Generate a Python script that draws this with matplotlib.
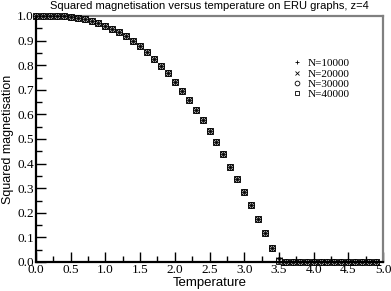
import matplotlib
matplotlib.use("Agg")
import matplotlib.pyplot as plt
from matplotlib.ticker import MultipleLocator, FormatStrFormatter

temperature = [round(0.1 * i, 1) for i in range(50)]

m2_n10000 = [1.000, 1.000, 1.000, 1.000, 0.999, 0.997, 0.993, 0.988, 0.980, 0.970,
             0.960, 0.948, 0.934, 0.918, 0.899, 0.878, 0.853, 0.826, 0.798, 0.767,
             0.733, 0.696, 0.659, 0.618, 0.576, 0.533, 0.487, 0.438, 0.387, 0.339,
             0.283, 0.230, 0.174, 0.117, 0.058, 0.018, 0.0, 0.0, 0.0, 0.0,
             0.0, 0.0, 0.0, 0.0, 0.0, 0.0, 0.0, 0.0, 0.0, 0.0]
m2_n20000 = [1.000, 1.000, 1.000, 1.000, 0.999, 0.997, 0.993, 0.988, 0.980, 0.970,
             0.960, 0.948, 0.934, 0.918, 0.899, 0.878, 0.853, 0.826, 0.798, 0.767,
             0.733, 0.696, 0.659, 0.618, 0.576, 0.533, 0.487, 0.438, 0.387, 0.339,
             0.283, 0.230, 0.174, 0.117, 0.058, 0.010, 0.0, 0.0, 0.0, 0.0,
             0.0, 0.0, 0.0, 0.0, 0.0, 0.0, 0.0, 0.0, 0.0, 0.0]
m2_n30000 = [1.000, 1.000, 1.000, 1.000, 0.999, 0.997, 0.993, 0.988, 0.980, 0.970,
             0.960, 0.948, 0.934, 0.918, 0.899, 0.878, 0.853, 0.826, 0.798, 0.767,
             0.733, 0.696, 0.659, 0.618, 0.576, 0.533, 0.487, 0.438, 0.387, 0.339,
             0.283, 0.230, 0.174, 0.117, 0.058, 0.007, 0.0, 0.0, 0.0, 0.0,
             0.0, 0.0, 0.0, 0.0, 0.0, 0.0, 0.0, 0.0, 0.0, 0.0]
m2_n40000 = [1.000, 1.000, 1.000, 1.000, 0.999, 0.997, 0.993, 0.988, 0.980, 0.970,
             0.960, 0.948, 0.934, 0.918, 0.899, 0.878, 0.853, 0.826, 0.798, 0.767,
             0.733, 0.696, 0.659, 0.618, 0.576, 0.533, 0.487, 0.438, 0.387, 0.339,
             0.283, 0.230, 0.174, 0.117, 0.058, 0.005, 0.0, 0.0, 0.0, 0.0,
             0.0, 0.0, 0.0, 0.0, 0.0, 0.0, 0.0, 0.0, 0.0, 0.0]

series = [
  ("N=10000", m2_n10000, "+"),
  ("N=20000", m2_n20000, "x"),
  ("N=30000", m2_n30000, "o"),
  ("N=40000", m2_n40000, "s"),
]

serif = "Liberation Serif"
sans = "Liberation Sans"

fig = plt.figure(figsize=(3.91, 2.91), dpi=100)
ax = fig.add_axes([36 / 391, 1 - 262 / 291, 347 / 391, 246 / 291])

for name, values, marker in series:
  ax.plot(temperature, values, linestyle="none", marker=marker, markersize=4.2,
          markerfacecolor="none", markeredgecolor="black", markeredgewidth=0.6,
          label=name, clip_on=False, zorder=3)

ax.set_xlim(0, 5)
ax.set_ylim(0, 1)
ax.xaxis.set_major_locator(MultipleLocator(0.5))
ax.xaxis.set_minor_locator(MultipleLocator(0.25))
ax.yaxis.set_major_locator(MultipleLocator(0.1))
ax.yaxis.set_minor_locator(MultipleLocator(0.05))
ax.xaxis.set_major_formatter(FormatStrFormatter("%.1f"))
ax.yaxis.set_major_formatter(FormatStrFormatter("%.1f"))
ax.tick_params(which="both", direction="in", top=False, right=False,
               width=1, color="black")
ax.tick_params(which="major", length=7, pad=1.5)
ax.tick_params(which="minor", length=4)
for lab in ax.get_xticklabels() + ax.get_yticklabels():
  lab.set_fontfamily(serif)
  lab.set_fontsize(9.5)

for side in ("left", "bottom"):
  ax.spines[side].set_linewidth(1.6)
  ax.spines[side].set_color("black")
for side in ("top", "right"):
  ax.spines[side].set_linewidth(1.6)
  ax.spines[side].set_color("#808080")

ax.set_xlabel("Temperature", fontfamily=sans, fontsize=9.5, labelpad=1)
ax.set_ylabel("Squared magnetisation", fontfamily=sans, fontsize=9, labelpad=2)
ax.set_title("Squared magnetisation versus temperature on ERU graphs, z=4",
             fontfamily=sans, fontsize=8, pad=5)

leg = ax.legend(loc="upper left", bbox_to_anchor=(0.72, 0.85), frameon=False,
                prop={"family": serif, "size": 8}, handletextpad=0.5,
                labelspacing=0.05, handlelength=1.0, borderpad=0)
for h in leg.legend_handles:
  h.set_markersize(3.4)

fig.savefig("out.png", dpi=100)
